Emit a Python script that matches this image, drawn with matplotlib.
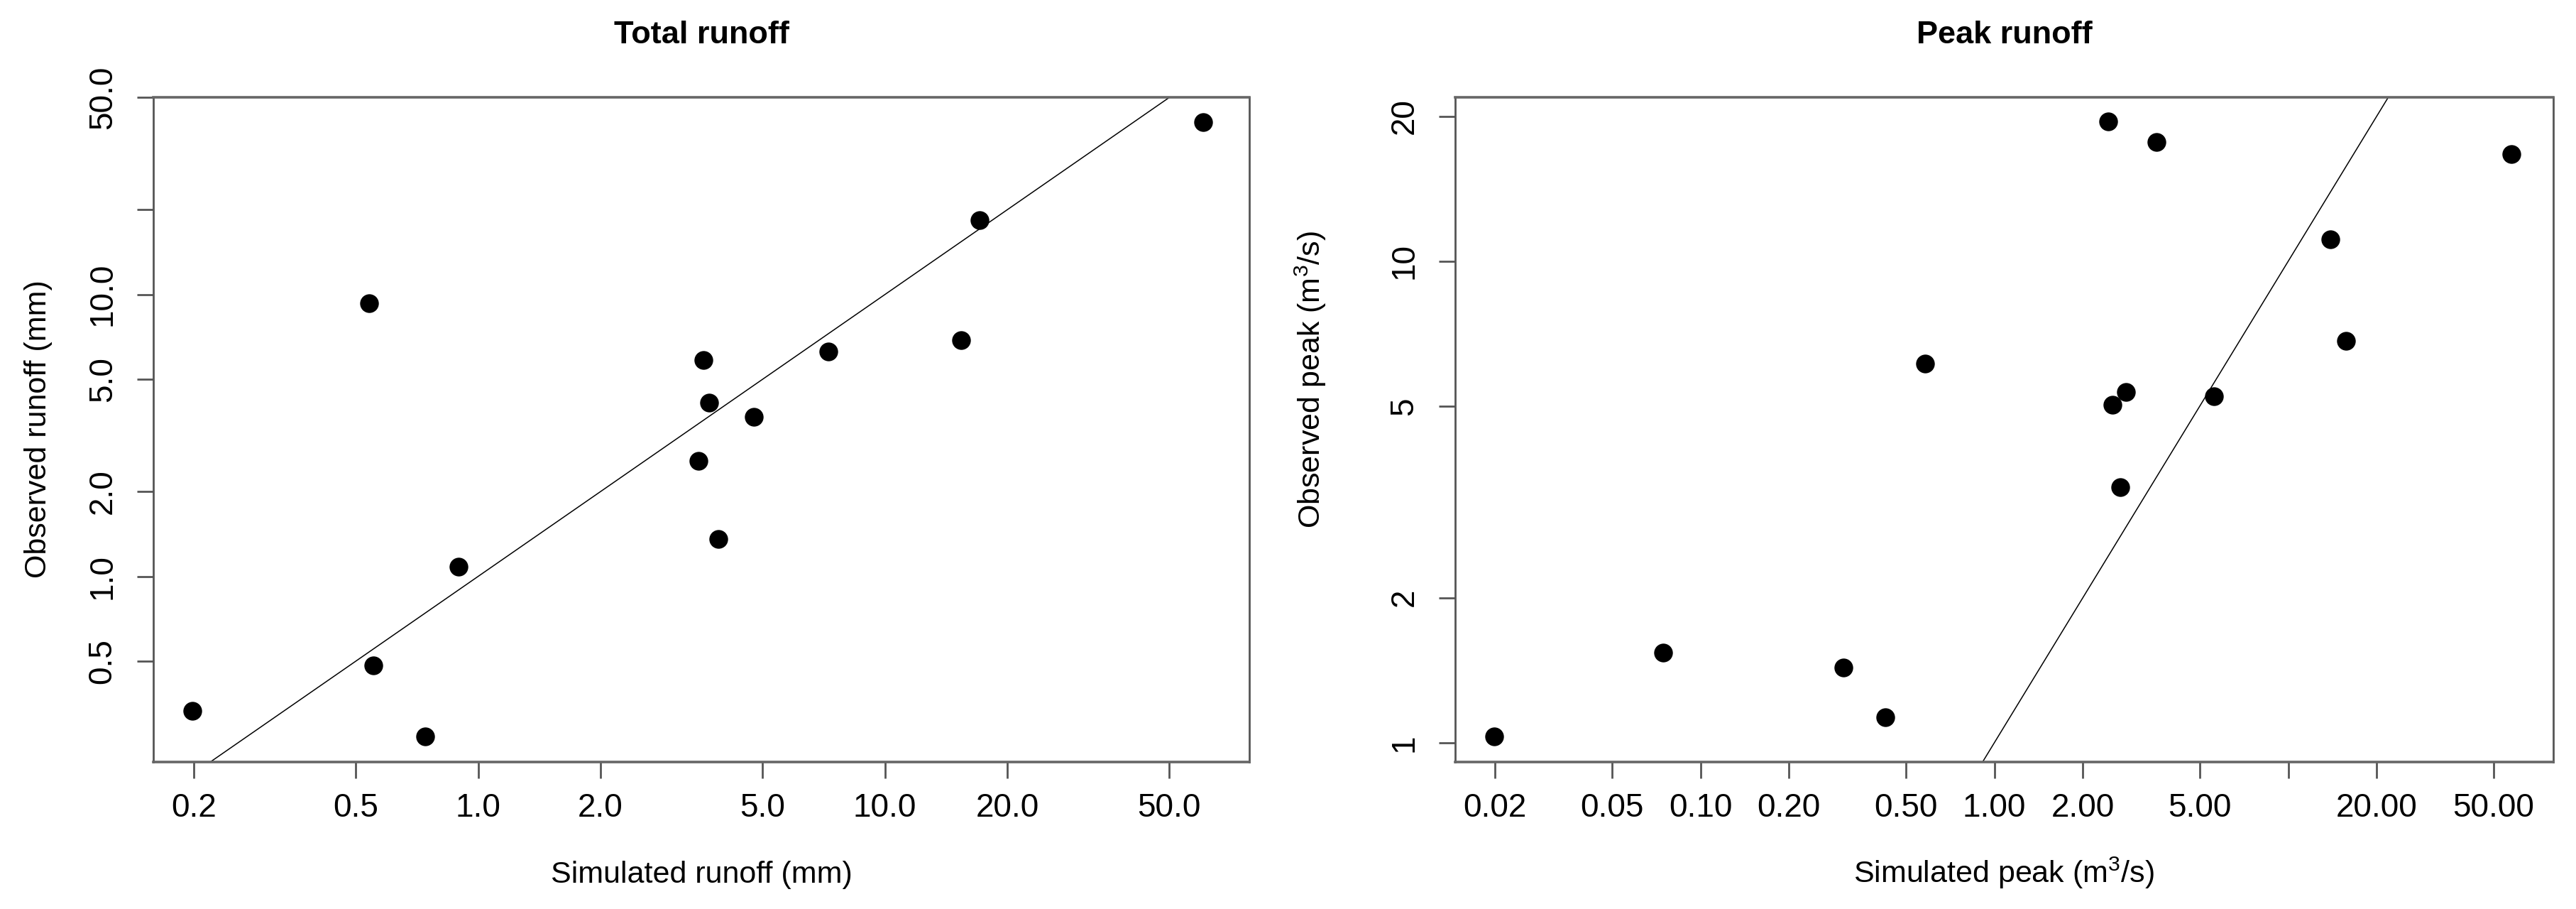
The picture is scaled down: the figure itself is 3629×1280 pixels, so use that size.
import numpy as np
import matplotlib
matplotlib.use("Agg")
import matplotlib.pyplot as plt

plt.rcParams['font.family'] = ['Liberation Sans', 'DejaVu Sans']
plt.rcParams['mathtext.fontset'] = 'custom'
plt.rcParams['mathtext.rm'] = 'Liberation Sans'
plt.rcParams['mathtext.it'] = 'Liberation Sans:italic'

# Total runoff (mm)
sim_total = [0.198, 0.54, 0.553, 0.741, 0.896, 3.48, 3.58, 3.70, 3.90, 4.76, 7.26, 15.4, 17.1, 60.7]
obs_total = [0.333, 9.3, 0.482, 0.27, 1.085, 2.57, 5.85, 4.13, 1.36, 3.69, 6.28, 6.87, 18.4, 40.9]

# Peak runoff (m3/s)
sim_peak = [0.0199, 0.0747, 0.307, 0.426, 0.582, 2.44, 2.52, 2.68, 2.80, 3.56, 5.60, 13.9, 15.7, 57.4]
obs_peak = [1.03, 1.54, 1.43, 1.13, 6.12, 19.5, 5.03, 3.39, 5.35, 17.7, 5.25, 11.1, 6.84, 16.7]

# tick positions and labels
total_xticks = [0.2, 0.5, 1, 2, 5, 10, 20, 50]
total_xlabels = ["0.2", "0.5", "1.0", "2.0", "5.0", "10.0", "20.0", "50.0"]
total_yticks = [0.5, 1, 2, 5, 10, 20, 50]
total_ylabels = ["0.5", "1.0", "2.0", "5.0", "10.0", "", "50.0"]
peak_xticks = [0.02, 0.05, 0.1, 0.2, 0.5, 1, 2, 5, 10, 20, 50]
peak_xlabels = ["0.02", "0.05", "0.10", "0.20", "0.50", "1.00", "2.00", "5.00", "", "20.00", "50.00"]
peak_yticks = [1, 2, 5, 10, 20]
peak_ylabels = ["1", "2", "5", "10", "20"]

W, H = 3629, 1280
fig = plt.figure(figsize=(W / 100, H / 100), dpi=100)


def scatter_panel(rect, x, y, xlim, ylim, xticks, xlabels, yticks, ylabels,
                  title, xlabel, ylabel, ylab_x, ylab_y):
    ax = fig.add_axes(rect)
    ax.set_xscale('log')
    ax.set_yscale('log')
    ax.plot(x, y, 'o', color='black', markersize=19, markeredgewidth=0)
    # 1:1 line
    ax.plot([1e-4, 1e4], [1e-4, 1e4], color='black', linewidth=1.1)
    ax.set_xlim(*xlim)
    ax.set_ylim(*ylim)

    ax.set_xticks(xticks)
    ax.set_xticklabels(xlabels)
    ax.set_yticks(yticks)
    ax.set_yticklabels(ylabels, rotation=90, va='center')
    ax.xaxis.set_minor_locator(matplotlib.ticker.NullLocator())
    ax.yaxis.set_minor_locator(matplotlib.ticker.NullLocator())
    ax.tick_params(axis='both', length=16.5, width=2, color='#555555',
                   labelsize=33, labelcolor='black')
    ax.tick_params(axis='x', pad=15)
    ax.tick_params(axis='y', pad=19)

    for side in ['top', 'bottom']:
        ax.spines[side].set_linewidth(2.6)
        ax.spines[side].set_color('#666666')
    for side in ['left', 'right']:
        ax.spines[side].set_linewidth(2)
        ax.spines[side].set_color('#555555')

    ax.set_title(title, fontsize=32.5, fontweight='bold', pad=55)
    ax.set_xlabel(xlabel, fontsize=31, va='baseline')
    ax.xaxis.set_label_coords(0.5, -0.182)
    ax.set_ylabel(ylabel, fontsize=31, va='baseline')
    ax.yaxis.set_label_coords(ylab_x, ylab_y)
    return ax


y0 = 1 - 1072.6 / H
hgt = 935.6 / H

scatter_panel([216 / W, y0, 1544 / W, hgt], sim_total, obs_total,
              (0.159, 78.7), (0.22, 50.1),
              total_xticks, total_xlabels, total_yticks, total_ylabels,
              "Total runoff", "Simulated runoff (mm)", "Observed runoff (mm)",
              -0.0978, 0.501)

scatter_panel([2049.7 / W, y0, 1547.3 / W, hgt], sim_peak, obs_peak,
              (0.0146, 79.8), (0.913, 21.9),
              peak_xticks, peak_xlabels, peak_yticks, peak_ylabels,
              "Peak runoff", r"Simulated peak ($\mathrm{m}^{3}$/s)",
              r"Observed peak ($\mathrm{m}^{3}$/s)",
              -0.1226, 0.575)

fig.savefig("out.png", dpi=100)
